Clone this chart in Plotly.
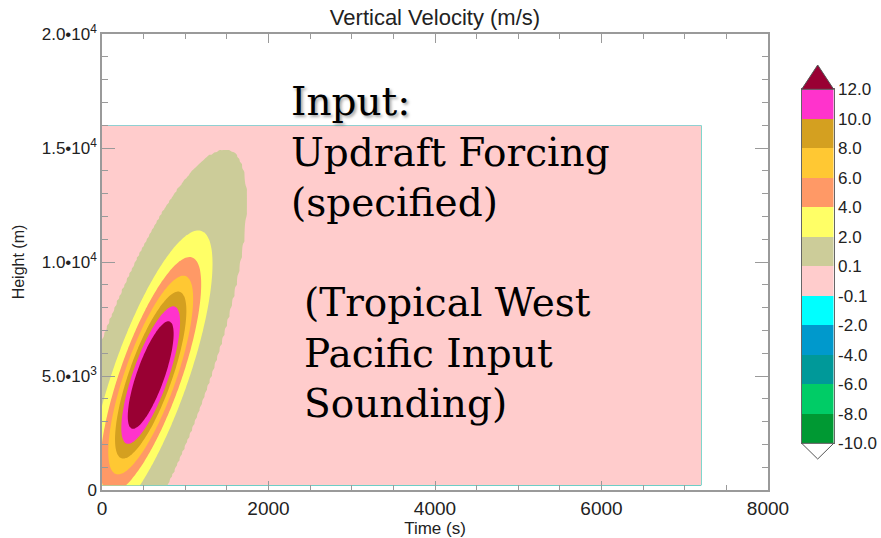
import numpy as np
import plotly.graph_objects as go

# ---------------- data ----------------
# contour levels of vertical velocity (m/s), bottom to top of the colour bar
LEVELS = [-10.0, -8.0, -6.0, -4.0, -2.0, -0.1, 0.1, 2.0, 4.0, 6.0, 8.0, 10.0, 12.0]
LEVEL_LABELS = ["-10.0", "-8.0", "-6.0", "-4.0", "-2.0", "-0.1", "0.1",
                "2.0", "4.0", "6.0", "8.0", "10.0", "12.0"]
# colour of each band between consecutive levels
BAND_COLORS = ["#009933", "#00cc66", "#009999", "#0099cc", "#00ffff", "#ffcccc",
               "#cccc99", "#ffff66", "#ff9966", "#ffc833", "#d4a020", "#ff33cc"]
BELOW_COLOR = "#ffffff"   # < -10
ABOVE_COLOR = "#990033"   # > 12

# model domain (s, m)
TIME_S = np.arange(0.0, 7200.1, 30.0)
HEIGHT_M = np.arange(200.0, 16000.1, 100.0)

# specified updraft forcing (tilted gaussian)
PEAK_W = 16.0        # m/s
CENTER_T = 585.0     # s
CENTER_Z = 5040.0    # m
SIGMA_T = 515.0      # s
SIGMA_Z = 4400.0     # m
TILT_CORR = 0.77

X_TICKS = [0, 2000, 4000, 6000, 8000]
Y_TICKS = [0, 5000, 10000, 15000, 20000]
Y_TICK_TEXT = ["0", "5.0\u202210<sup>3</sup>", "1.0\u202210<sup>4</sup>",
               "1.5\u202210<sup>4</sup>", "2.0\u202210<sup>4</sup>"]

# ---------------- field ----------------
T, Z = np.meshgrid(TIME_S, HEIGHT_M)
xn = (T - CENTER_T) / SIGMA_T
yn = (Z - CENTER_Z) / SIGMA_Z
Q = (xn ** 2 - 2 * TILT_CORR * xn * yn + yn ** 2) / (1 - TILT_CORR ** 2)
W = PEAK_W * np.exp(-Q)

# map the irregular levels onto level-index space (0..12)
lev = np.array(LEVELS)
nlev = len(lev)
idx = np.interp(W, lev, np.arange(nlev))
hi = W > lev[-1]
idx[hi] = nlev - 1 + (W[hi] - lev[-1]) / (lev[-1] - lev[-2])
lo = W < lev[0]
idx[lo] = (W[lo] - lev[0]) / (lev[1] - lev[0])


def stepped(colors):
    n = len(colors)
    scale = []
    for i, c in enumerate(colors):
        scale.append([i / n, c])
        scale.append([(i + 1) / n, c])
    return scale


all_colors = [BELOW_COLOR] + BAND_COLORS + [ABOVE_COLOR]

# ---------------- geometry ----------------
W_PX, H_PX = 881, 538
ML, MR, MT, MB = 102, 0, 34, 48
PW, PH = W_PX - ML - MR, H_PX - MT - MB
PLOT_RIGHT_PX = 768


def xp(px):
    return (px - ML) / PW


def yp(py):
    return (H_PX - MB - py) / PH


CB_LEFT, CB_RIGHT, CB_TOP, CB_BOT = 801.7, 833.7, 89.3, 443.3

fig = go.Figure()
fig.add_trace(go.Contour(
    x=TIME_S, y=HEIGHT_M, z=idx,
    zmin=-1, zmax=nlev, zauto=False,
    colorscale=stepped(all_colors),
    contours=dict(start=0, end=nlev - 1, size=1, coloring="fill", showlines=False),
    line=dict(width=0),
    showscale=False, hoverinfo="skip",
    xaxis="x", yaxis="y",
))

# discrete colour bar drawn as a one-column heatmap on its own axes
fig.add_trace(go.Heatmap(
    x=[-0.5, 0.5], y=list(range(nlev)),
    z=[[i] for i in range(nlev - 1)],
    zmin=-0.5, zmax=nlev - 1.5, colorscale=stepped(BAND_COLORS),
    showscale=False, hoverinfo="skip", xaxis="x2", yaxis="y2",
))

cx = (CB_LEFT + CB_RIGHT) / 2
top_tri = f"M {xp(CB_LEFT)} {yp(CB_TOP)} L {xp(CB_RIGHT)} {yp(CB_TOP)} L {xp(cx)} {yp(65)} Z"
bot_tri = f"M {xp(CB_LEFT)} {yp(CB_BOT)} L {xp(CB_RIGHT)} {yp(CB_BOT)} L {xp(cx)} {yp(459)} Z"
fig.add_shape(type="path", path=top_tri, xref="paper", yref="paper",
              fillcolor=ABOVE_COLOR, line=dict(color="#555", width=1))
fig.add_shape(type="path", path=bot_tri, xref="paper", yref="paper",
              fillcolor=BELOW_COLOR, line=dict(color="#555", width=1))

# ---------------- text overlays ----------------
SERIF = dict(family="DejaVu Serif", size=39, color="black")
fig.add_annotation(
    text='<span style="text-shadow:2px 2px 3px rgba(0,0,0,0.35)">Input:</span><br>'
         'Updraft Forcing<br>(specified)',
    xref="paper", yref="paper", x=xp(289), y=yp(152), xanchor="left", yanchor="middle",
    showarrow=False, align="left", font=SERIF)
fig.add_annotation(
    text="(Tropical West<br>Pacific Input<br>Sounding)",
    xref="paper", yref="paper", x=xp(302), y=yp(353), xanchor="left", yanchor="middle",
    showarrow=False, align="left", font=SERIF)

AX_COLOR = "#9a9a9a"
SANS = "Liberation Sans"
fig.update_layout(
    xaxis=dict(
        domain=[0, xp(PLOT_RIGHT_PX)], anchor="y",
        range=[0, 8000], tickmode="array", tickvals=X_TICKS,
        ticks="inside", ticklen=9, tickcolor=AX_COLOR, tickwidth=1,
        showline=True, linecolor=AX_COLOR, linewidth=1.5, mirror="ticks",
        showgrid=False, zeroline=False,
        minor=dict(tickmode="linear", tick0=0, dtick=500, ticks="inside", ticklen=5,
                   tickcolor=AX_COLOR, showgrid=False),
        tickfont=dict(family=SANS, size=19, color="#222"),
        title=dict(text="Time (s)", font=dict(family=SANS, size=17, color="#222"), standoff=4),
    ),
    yaxis=dict(
        domain=[0, 1], anchor="x",
        range=[0, 20000], tickmode="array", tickvals=Y_TICKS, ticktext=Y_TICK_TEXT,
        ticks="inside", ticklen=13, tickcolor=AX_COLOR, tickwidth=1,
        showline=True, linecolor=AX_COLOR, linewidth=1.5, mirror="ticks",
        showgrid=False, zeroline=False,
        minor=dict(tickmode="linear", tick0=0, dtick=1000, ticks="inside", ticklen=6,
                   tickcolor=AX_COLOR, showgrid=False),
        tickfont=dict(family=SANS, size=17, color="#222"),
        title=dict(text="Height (m)", font=dict(family=SANS, size=16, color="#222"), standoff=13),
    ),
    xaxis2=dict(
        domain=[xp(CB_LEFT), xp(CB_RIGHT)], anchor="y2", range=[-0.5, 0.5],
        showticklabels=False, ticks="", showgrid=False, zeroline=False,
        showline=True, linecolor="#666", linewidth=1, mirror=True, fixedrange=True,
    ),
    yaxis2=dict(
        domain=[yp(CB_BOT), yp(CB_TOP)], anchor="x2", side="right", range=[0, nlev - 1],
        tickmode="array", tickvals=list(range(nlev)), ticktext=LEVEL_LABELS,
        ticks="", showgrid=False, zeroline=False,
        showline=True, linecolor="#666", linewidth=1, mirror=True, fixedrange=True,
        tickfont=dict(family=SANS, size=17, color="#222"),
    ),
    width=W_PX, height=H_PX,
    margin=dict(l=ML, r=MR, t=MT, b=MB, autoexpand=False),
    paper_bgcolor="white", plot_bgcolor="white",
    title=dict(text="Vertical Velocity (m/s)", xref="paper", x=xp(435), xanchor="center",
               yref="container", y=1 - 17 / H_PX, yanchor="middle",
               font=dict(family=SANS, size=22, color="#222")),
)

fig.write_html("out.html")
